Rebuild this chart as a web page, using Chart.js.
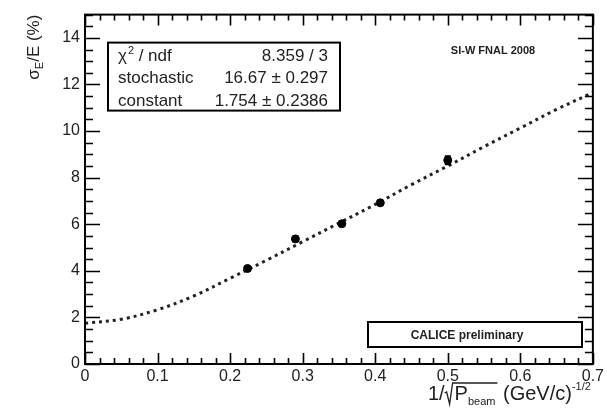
<!DOCTYPE html>
<html>
<head>
<meta charset="utf-8">
<script src="https://cdn.jsdelivr.net/npm/chart.js@4.4.1/dist/chart.umd.min.js"></script>
<style>
  html, body { margin: 0; padding: 0; background: #fff; }
  #wrap { width: 607px; height: 412px; }
</style>
</head>
<body>
<div id="wrap"><canvas id="c" width="607" height="412"></canvas></div>
<script>
// measured points (1/sqrt(P) vs sigma/E in %)
const xPoints = [0.224, 0.290, 0.354, 0.407, 0.500];
const yPoints = [4.10, 5.37, 6.02, 6.92, 8.75];
const yErrors = [0.08, 0.10, 0.08, 0.08, 0.17];

// fit curve
const fitX = [0, 0.05, 0.1, 0.15, 0.2, 0.25, 0.3, 0.35, 0.4, 0.45, 0.5, 0.55, 0.6, 0.65, 0.7];
const fitY = [1.75, 1.92, 2.33, 2.92, 3.68, 4.45, 5.25, 6.05, 6.85, 7.7, 8.5, 9.33, 10.13, 10.93, 11.65];

// axis ticks
const xTickValues = [0, 0.1, 0.2, 0.3, 0.4, 0.5, 0.6, 0.7];
const yTickValues = [0, 2, 4, 6, 8, 10, 12, 14];
const xMinorStep = 0.02;
const yMinorStep = 0.5;

// fit box text
const fitLabels = ['χ', 'stochastic', 'constant'];
const fitValues = ['8.359 / 3', '16.67 ± 0.297', '1.754 ± 0.2386'];

const FONT = '"Liberation Sans", Arial, Helvetica, sans-serif';
const INK = '#222';

const rootFrame = {
    id: 'rootFrame',
    afterDatasetsDraw(chart) {
        // error bars
        const ctx = chart.ctx, xs = chart.scales.x, ys = chart.scales.y;
        ctx.save();
        ctx.strokeStyle = '#000';
        ctx.lineWidth = 2;
        xPoints.forEach((xv, i) => {
            const px = xs.getPixelForValue(xv);
            const top = ys.getPixelForValue(yPoints[i] + yErrors[i]);
            const bot = ys.getPixelForValue(yPoints[i] - yErrors[i]);
            ctx.beginPath();
            ctx.moveTo(px, top); ctx.lineTo(px, bot);
            ctx.moveTo(px - 3, top); ctx.lineTo(px + 3, top);
            ctx.moveTo(px - 3, bot); ctx.lineTo(px + 3, bot);
            ctx.stroke();
        });
        ctx.restore();
    },
    afterDraw(chart) {
        const ctx = chart.ctx, a = chart.chartArea;
        const xs = chart.scales.x, ys = chart.scales.y;
        ctx.save();

        // frame
        ctx.strokeStyle = '#000';
        ctx.lineWidth = 2;
        ctx.strokeRect(a.left, a.top, a.right - a.left, a.bottom - a.top);

        // inner ticks on all four sides
        ctx.lineWidth = 1.6;
        ctx.beginPath();
        for (let v = 0; v <= 0.7001; v += xMinorStep) {
            const major = xTickValues.some(t => Math.abs(t - v) < 1e-6);
            const len = major ? 11 : 6;
            const px = Math.round(xs.getPixelForValue(v)) + 0.5;
            ctx.moveTo(px, a.bottom); ctx.lineTo(px, a.bottom - len);
            ctx.moveTo(px, a.top); ctx.lineTo(px, a.top + len);
        }
        for (let v = 0; v <= 15.001; v += yMinorStep) {
            const major = yTickValues.some(t => Math.abs(t - v) < 1e-6);
            const len = major ? 15 : 8;
            const py = Math.round(ys.getPixelForValue(v)) + 0.5;
            ctx.moveTo(a.left, py); ctx.lineTo(a.left + len, py);
            ctx.moveTo(a.right, py); ctx.lineTo(a.right - len, py);
        }
        ctx.stroke();

        // fit parameter box
        const bx = a.left + 23, by = a.top + 28, bw = 232, bh = 68;
        ctx.fillStyle = '#fff';
        ctx.fillRect(bx, by, bw, bh);
        ctx.lineWidth = 2;
        ctx.strokeRect(bx, by, bw, bh);
        ctx.fillStyle = INK;
        ctx.font = '17px ' + FONT;
        ctx.textBaseline = 'alphabetic';
        const rows = [by + 18, by + 40, by + 63];
        ctx.textAlign = 'left';
        ctx.fillText(fitLabels[0], bx + 10, rows[0]);
        let w = ctx.measureText(fitLabels[0]).width;
        ctx.font = '11px ' + FONT;
        ctx.fillText('2', bx + 10 + w + 1, rows[0] - 7);
        ctx.font = '17px ' + FONT;
        ctx.fillText(' / ndf', bx + 10 + w + 7, rows[0]);
        ctx.fillText(fitLabels[1], bx + 10, rows[1]);
        ctx.fillText(fitLabels[2], bx + 10, rows[2]);
        ctx.textAlign = 'right';
        fitValues.forEach((t, i) => ctx.fillText(t, bx + bw - 12, rows[i]));

        // run label
        ctx.textAlign = 'center';
        ctx.font = 'bold 11px ' + FONT;
        ctx.fillText('SI-W FNAL 2008', a.left + 408, a.top + 39);

        // CALICE preliminary box
        const cx = a.left + 283, cy = a.bottom - 42, cw = 214, ch = 25;
        ctx.strokeRect(cx, cy, cw, ch);
        ctx.font = 'bold 12px ' + FONT;
        ctx.fillText('CALICE preliminary', cx + cw / 2 - 8, cy + 17);

        // x axis title: 1/sqrt(P_beam) (GeV/c)^-1/2
        const main = '20px ' + FONT, small = '11px ' + FONT;
        const base = 400;
        ctx.textAlign = 'left';
        ctx.font = main;
        const w1 = ctx.measureText('1/').width;
        const wP = ctx.measureText('P').width;
        const wG = ctx.measureText(' (GeV/c)').width;
        ctx.font = small;
        const wb = ctx.measureText('beam').width;
        const ws = ctx.measureText('-1/2').width;
        const rad = 10;
        let x = a.right - 2 - (w1 + rad + wP + wb + 2 + wG + ws);
        ctx.font = main;
        ctx.fillText('1/', x, base);
        x += w1;
        // radical sign
        ctx.lineWidth = 1.3;
        ctx.strokeStyle = INK;
        ctx.beginPath();
        ctx.moveTo(x, base - 7);
        ctx.lineTo(x + 2, base - 8);
        ctx.lineTo(x + 5, base + 4);
        ctx.lineTo(x + 8, base - 17);
        ctx.lineTo(x + rad + wP + wb + 2, base - 17);
        ctx.stroke();
        x += rad;
        ctx.fillText('P', x, base);
        x += wP;
        ctx.font = small;
        ctx.fillText('beam', x, base + 5);
        x += wb + 2;
        ctx.font = main;
        ctx.fillText(' (GeV/c)', x, base);
        x += wG;
        ctx.font = small;
        ctx.fillText('-1/2', x, base - 10);

        // y axis title: sigma_E/E (%), rotated, ending near the top
        ctx.translate(39, a.top);
        ctx.rotate(-Math.PI / 2);
        ctx.font = '17px ' + FONT;
        const wsig = ctx.measureText('σ').width;
        const wrest = ctx.measureText('/E (%)').width;
        ctx.font = small;
        const wE = ctx.measureText('E').width;
        let y0 = -(wsig + wE + wrest);
        ctx.font = '17px ' + FONT;
        ctx.fillText('σ', y0, 0);
        ctx.font = small;
        ctx.fillText('E', y0 + wsig, 4);
        ctx.font = '17px ' + FONT;
        ctx.fillText('/E (%)', y0 + wsig + wE, 0);

        ctx.restore();
    }
};

new Chart(document.getElementById('c'), {
    type: 'scatter',
    data: {
        datasets: [
            {
                label: 'data',
                data: xPoints.map((x, i) => ({ x: x, y: yPoints[i] })),
                pointRadius: 4,
                pointBackgroundColor: '#000',
                pointBorderColor: '#000',
                order: 0
            },
            {
                label: 'fit',
                data: fitX.map((x, i) => ({ x: x, y: fitY[i] })),
                showLine: true,
                pointRadius: 0,
                borderColor: '#222',
                borderWidth: 3,
                borderDash: [3, 4],
                tension: 0.35,
                order: 1
            }
        ]
    },
    options: {
        responsive: false,
        animation: false,
        layout: { padding: { top: 12, right: 10, left: 0, bottom: 0 } },
        plugins: { legend: { display: false }, tooltip: { enabled: false } },
        scales: {
            x: {
                type: 'linear', min: 0, max: 0.7,
                grid: { display: false, drawTicks: false },
                border: { display: false },
                afterBuildTicks: s => { s.ticks = xTickValues.map(v => ({ value: v })); },
                afterFit: s => { s.height = 48; },
                ticks: {
                    padding: 3,
                    color: INK,
                    maxRotation: 0,
                    font: { family: FONT, size: 16 },
                    callback: v => String(+v.toFixed(1))
                }
            },
            y: {
                type: 'linear', min: 0, max: 15,
                grid: { display: false, drawTicks: false },
                border: { display: false },
                afterBuildTicks: s => { s.ticks = yTickValues.map(v => ({ value: v })); },
                afterFit: s => { s.width = 85; },
                ticks: {
                    padding: 5,
                    color: INK,
                    font: { family: FONT, size: 16 },
                    callback: v => String(v)
                }
            }
        }
    },
    plugins: [rootFrame]
});
</script>
</body>
</html>
